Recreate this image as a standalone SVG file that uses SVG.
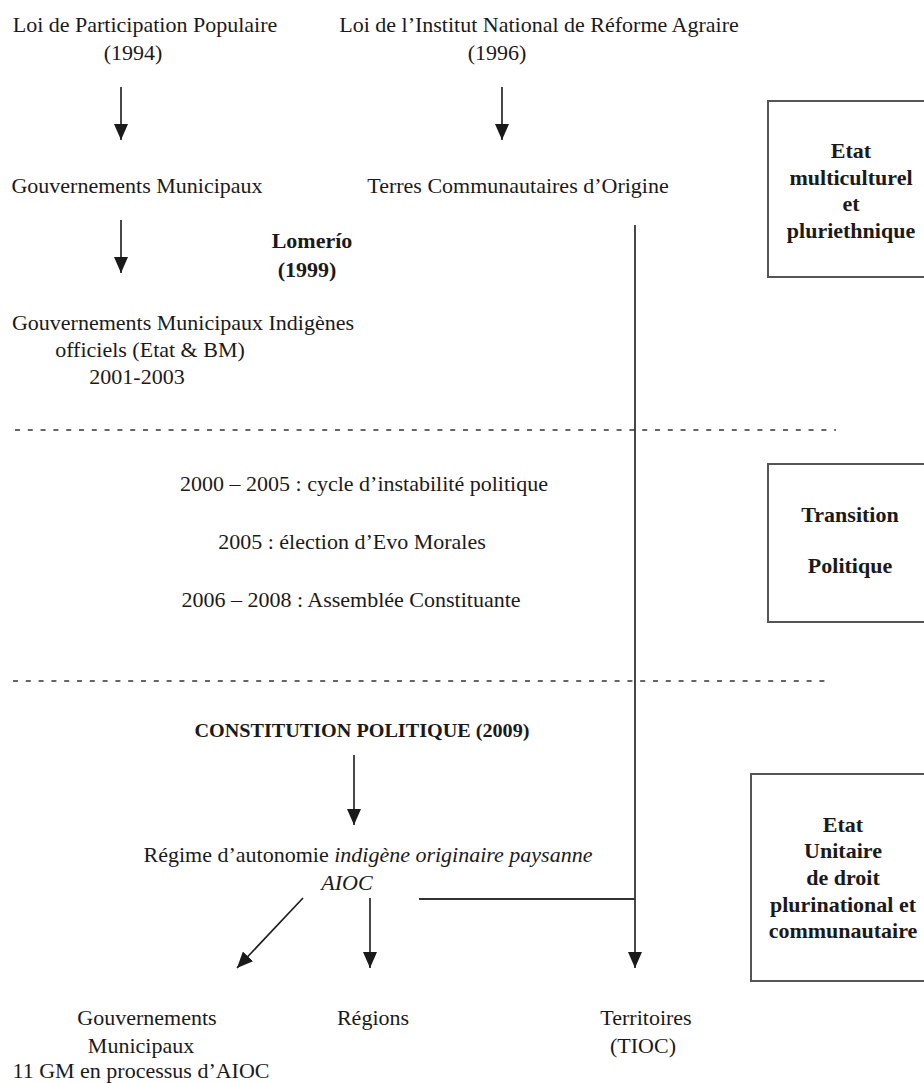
<svg xmlns="http://www.w3.org/2000/svg" width="924" height="1083" viewBox="0 0 924 1083">
<style>
  text { font-family: "Liberation Serif", "Times New Roman", serif; font-size: 22px; fill: #1a1a1a; text-anchor: middle; }
  .b { font-weight: bold; }
  .i { font-style: italic; }
  .arrow { stroke: #1a1a1a; stroke-width: 1.6; fill: none; marker-end: url(#head); }
  .line { stroke: #333; stroke-width: 1.8; fill: none; }
  .dash { stroke: #666; stroke-width: 2.2; stroke-dasharray: 5 7.8; fill: none; }
  .box { fill: #fff; stroke: #555; stroke-width: 2; }
</style>
<defs>
  <marker id="head" viewBox="0 0 16 14" markerWidth="16" markerHeight="14" refX="16" refY="7" orient="auto" markerUnits="userSpaceOnUse">
    <path d="M0,0 L16,7 L0,14 z" fill="#1a1a1a"/>
  </marker>
</defs>
<rect width="924" height="1083" fill="#fff"/>

<g id="separators">
  <line class="dash" x1="15" y1="430" x2="836" y2="430"/>
  <line class="dash" x1="13" y1="681" x2="831" y2="681"/>
</g>

<g id="connectors">
  <line class="arrow" x1="121" y1="87" x2="121" y2="140"/>
  <line class="arrow" x1="502" y1="87" x2="502" y2="140"/>
  <line class="arrow" x1="121" y1="220" x2="121" y2="273"/>
  <line class="arrow" x1="354" y1="755" x2="354" y2="825"/>
  <line class="arrow" x1="303" y1="898" x2="237" y2="968"/>
  <line class="arrow" x1="370" y1="898" x2="370" y2="968"/>
  <line class="arrow" x1="635" y1="225" x2="635" y2="968"/>
  <line class="line" x1="419" y1="899" x2="635" y2="899"/>
</g>

<g id="loi-pp">
  <text x="145" y="32">Loi de Participation Populaire</text>
  <text x="133" y="60">(1994)</text>
</g>
<g id="loi-inra">
  <text x="539" y="32">Loi de l’Institut National de Réforme Agraire</text>
  <text x="497" y="60">(1996)</text>
</g>
<g id="gm">
  <text x="137" y="193">Gouvernements Municipaux</text>
</g>
<g id="tco">
  <text x="518" y="193">Terres Communautaires d’Origine</text>
</g>
<g id="lomerio">
  <text class="b" x="312" y="248">Lomerío</text>
  <text class="b" x="307" y="277">(1999)</text>
</g>
<g id="gmi">
  <text x="183" y="330">Gouvernements Municipaux Indigènes</text>
  <text x="150" y="357">officiels (Etat &amp; BM)</text>
  <text x="137" y="384">2001-2003</text>
</g>
<g id="box-etat-multi">
  <rect class="box" x="768" y="101" width="170" height="176"/>
  <text class="b" x="851" y="158">Etat</text>
  <text class="b" x="851" y="185">multiculturel</text>
  <text class="b" x="851" y="211">et</text>
  <text class="b" x="851" y="238">pluriethnique</text>
</g>
<g id="transition-events">
  <text x="364" y="491">2000 – 2005 : cycle d’instabilité politique</text>
  <text x="352" y="549">2005 : élection d’Evo Morales</text>
  <text x="351" y="607">2006 – 2008 : Assemblée Constituante</text>
</g>
<g id="box-transition">
  <rect class="box" x="768" y="464" width="170" height="158"/>
  <text class="b" x="850" y="522">Transition</text>
  <text class="b" x="850" y="573">Politique</text>
</g>
<g id="constitution">
  <text class="b" x="362" y="737" style="font-size:19px" textLength="335" lengthAdjust="spacingAndGlyphs">CONSTITUTION POLITIQUE (2009)</text>
</g>
<g id="regime">
  <text x="368" y="862">Régime d’autonomie <tspan class="i">indigène originaire paysanne</tspan></text>
  <text class="i" x="347" y="890">AIOC</text>
</g>
<g id="gm-aioc">
  <text x="147" y="1025">Gouvernements</text>
  <text x="141" y="1053">Municipaux</text>
  <text x="141" y="1078">11 GM en processus d’AIOC</text>
</g>
<g id="regions">
  <text x="373" y="1025">Régions</text>
</g>
<g id="territoires">
  <text x="646" y="1025">Territoires</text>
  <text x="643" y="1053">(TIOC)</text>
</g>
<g id="box-etat-unitaire">
  <rect class="box" x="751" y="774" width="187" height="207"/>
  <text class="b" x="843" y="832">Etat</text>
  <text class="b" x="843" y="858">Unitaire</text>
  <text class="b" x="843" y="885">de droit</text>
  <text class="b" x="843" y="912">plurinational et</text>
  <text class="b" x="843" y="938">communautaire</text>
</g>
</svg>
